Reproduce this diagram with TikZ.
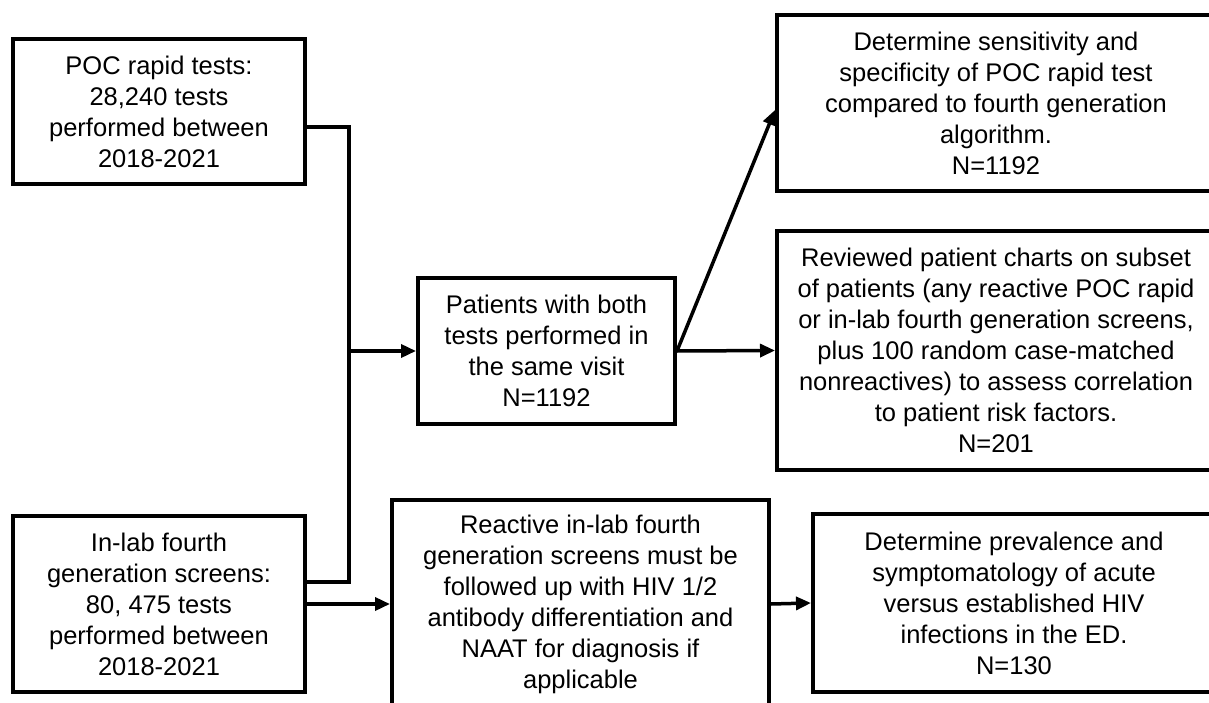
\documentclass[tikz,border=0pt]{standalone}
\usepackage{fontspec}
\setmainfont{Liberation Sans}
\usepackage{tikz}
\usetikzlibrary{arrows.meta}
\usetikzlibrary{positioning}

\begin{document}
\begin{tikzpicture}[x=1pt,y=-1pt,
    box/.style={draw,line width=4pt,rectangle,align=center,inner sep=0pt,
        font=\fontsize{25.5}{31}\selectfont},
    link/.style={line width=3.5pt},
    arr/.style={line width=3.5pt,-{Triangle[length=15pt,width=13pt]}}]
        \useasboundingbox (0,0) rectangle (1209,703);
        % sources
        \node[box,minimum width=292pt,minimum height=145pt] (poc) at (159,111.5)
            {POC rapid tests:\\28,240 tests\\performed between\\2018-2021};
        \node[box,minimum width=292pt,minimum height=176pt] (inlab) at (159,604)
            {In-lab fourth\\generation screens:\\80, 475 tests\\performed between\\2018-2021};
        % middle
        \node[box,minimum width=257pt,minimum height=146pt] (both) at (546.5,351)
            {Patients with both\\tests performed in\\the same visit\\N=1192};
        \node[box,minimum width=377pt,minimum height=208pt] (react) at (580.5,604)
            {Reactive in-lab fourth\\generation screens must be\\followed up with HIV 1/2\\antibody differentiation and\\NAAT for diagnosis if\\applicable};
        % outcomes
        \node[box,minimum width=438pt,minimum height=176pt] (sens) at (996,103)
            {Determine sensitivity and\\specificity of POC rapid test\\compared to fourth generation\\algorithm.\\N=1192};
        \node[box,minimum width=438pt,minimum height=239pt] (chart) at (996,350.5)
            {Reviewed patient charts on subset\\of patients (any reactive POC rapid\\or in-lab fourth generation screens,\\plus 100 random case-matched\\nonreactives) to assess correlation\\to patient risk factors.\\N=201};
        \node[box,minimum width=402pt,minimum height=178pt] (prev) at (1014,603)
            {Determine prevalence and\\symptomatology of acute\\versus established HIV\\infections in the ED.\\N=130};
        \coordinate (join) at (349,351);
        \draw[link] ([yshift=-15.5pt]poc.east) -| (join) |- ([yshift=22pt]inlab.east);
        \draw[arr] (join) -- (both.west);
        \draw[arr] (both.east) -- ([yshift=-7pt]sens.west);
        \draw[arr] (both.east) -- (chart.west);
        \draw[arr] (inlab.east) -- (react.west);
        \draw[arr] (react.east) -- (prev.west);
    \end{tikzpicture}
\end{document}
